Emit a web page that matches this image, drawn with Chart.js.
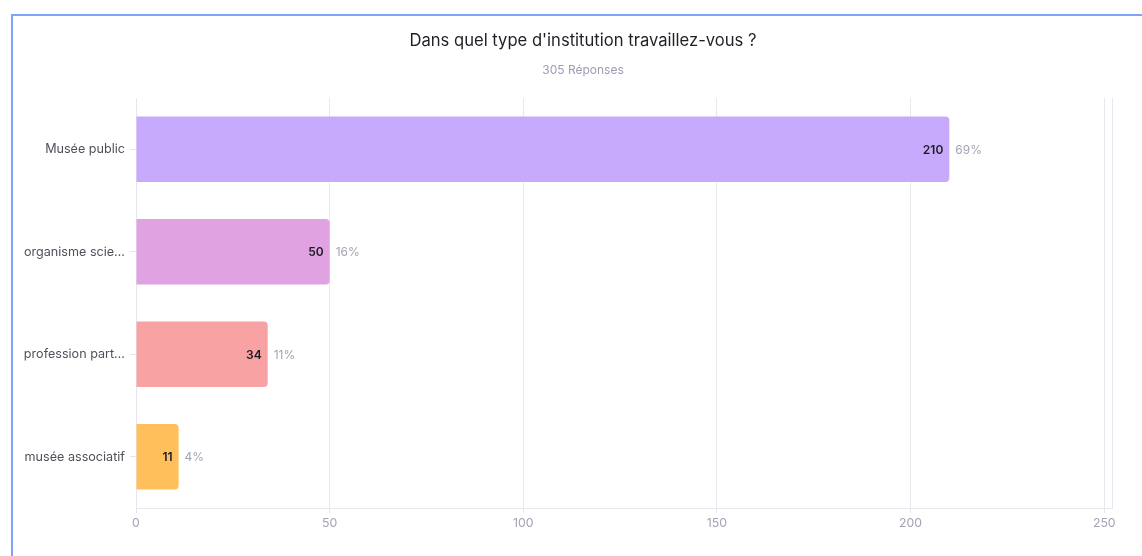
<!DOCTYPE html>
<html>
<head>
<meta charset="utf-8">
<script src="https://cdn.jsdelivr.net/npm/chart.js@4/dist/chart.umd.min.js"></script>
<style>
  html, body { margin: 0; padding: 0; background: #fff; overflow: hidden; }
  #frame { position: absolute; left: 11px; top: 14px; width: 1200px; height: 600px;
           border-top: 2px solid #7ea4f6; border-left: 2px solid #7ea4f6; box-sizing: border-box; }
  #wrap { position: absolute; left: 0; top: 0; width: 1142px; height: 556px; }
  .t { position: absolute; left: 283px; width: 600px; text-align: center; font-family: Inter, 'Noto Sans', sans-serif; white-space: nowrap; }
  #title { top: 30px; font-size: 16.6px; color: #1f1f26; line-height: 20px; }
  #subtitle { top: 62px; font-size: 12px; color: #9c9cb4; line-height: 16px; }
</style>
</head>
<body>
<div id="frame"></div>
<div id="wrap"><canvas id="c"></canvas></div>
<div class="t" id="title"></div>
<div class="t" id="subtitle"></div>
<script>
const titleText = "Dans quel type d'institution travaillez-vous ?";
const subtitleText = "305 Réponses";
const categories = ["Musée public", "organisme scie…", "profession part…", "musée associatif"];
const counts = [210, 50, 34, 11];
const percentLabels = ["69%", "16%", "11%", "4%"];
const barColors = ["#c7aafb", "#e0a2e0", "#f8a2a3", "#ffbf5b"];
const xTickValues = [0, 50, 100, 150, 200, 250];
const xMax = 252;

document.getElementById('title').textContent = titleText;
document.getElementById('subtitle').textContent = subtitleText;

const FONT = "Inter, 'Noto Sans', sans-serif";

const barLabels = {
  id: 'barLabels',
  afterDatasetsDraw(chart) {
    const ctx = chart.ctx;
    const meta = chart.getDatasetMeta(0);
    ctx.save();
    ctx.textBaseline = 'middle';
    meta.data.forEach((bar, i) => {
      ctx.font = "600 12px " + FONT;
      ctx.fillStyle = '#1c1c28';
      ctx.textAlign = 'right';
      ctx.fillText(String(counts[i]), bar.x - 6, bar.y + 1);
      ctx.font = "400 12px " + FONT;
      ctx.fillStyle = '#a3a3b6';
      ctx.textAlign = 'left';
      ctx.fillText(percentLabels[i], bar.x + 6, bar.y + 1);
    });
    ctx.restore();
  }
};

new Chart(document.getElementById('c'), {
  type: 'bar',
  data: {
    labels: categories,
    datasets: [{
      data: counts,
      backgroundColor: barColors,
      borderRadius: 4,
      borderSkipped: 'start',
      barPercentage: 0.8,
      categoryPercentage: 0.8
    }]
  },
  options: {
    indexAxis: 'y',
    responsive: true,
    maintainAspectRatio: false,
    animation: false,
    layout: { padding: { left: 0, right: 30, top: 98, bottom: 0 } },
    plugins: {
      legend: { display: false },
      tooltip: { enabled: false }
    },
    scales: {
      x: {
        min: 0, max: xMax,
        afterBuildTicks(s) { s.ticks = xTickValues.concat([xMax]).map(v => ({ value: v })); },
        afterFit(s) { s.height = 48; },
        border: { color: '#e6e6ee', width: 1 },
        grid: {
          color: '#e8e8ef', lineWidth: 1, tickLength: 5,
          tickColor: (c) => (c.tick && xTickValues.includes(c.tick.value)) ? '#e6e6ee' : 'rgba(0,0,0,0)'
        },
        ticks: {
          padding: 3, color: '#a3a3b6', autoSkip: false, maxRotation: 0,
          font: { family: FONT, size: 12.3 },
          callback: (v) => (xTickValues.includes(v) ? String(v) : '')
        }
      },
      y: {
        afterFit(s) { s.width = 136; },
        border: { color: '#e6e6ee', width: 1 },
        grid: { drawOnChartArea: false, offset: false, tickLength: 6, color: '#e6e6ee' },
        ticks: { padding: 5, color: '#50505a', font: { family: FONT, size: 12.6 } }
      }
    }
  },
  plugins: [barLabels]
});
</script>
</body>
</html>
